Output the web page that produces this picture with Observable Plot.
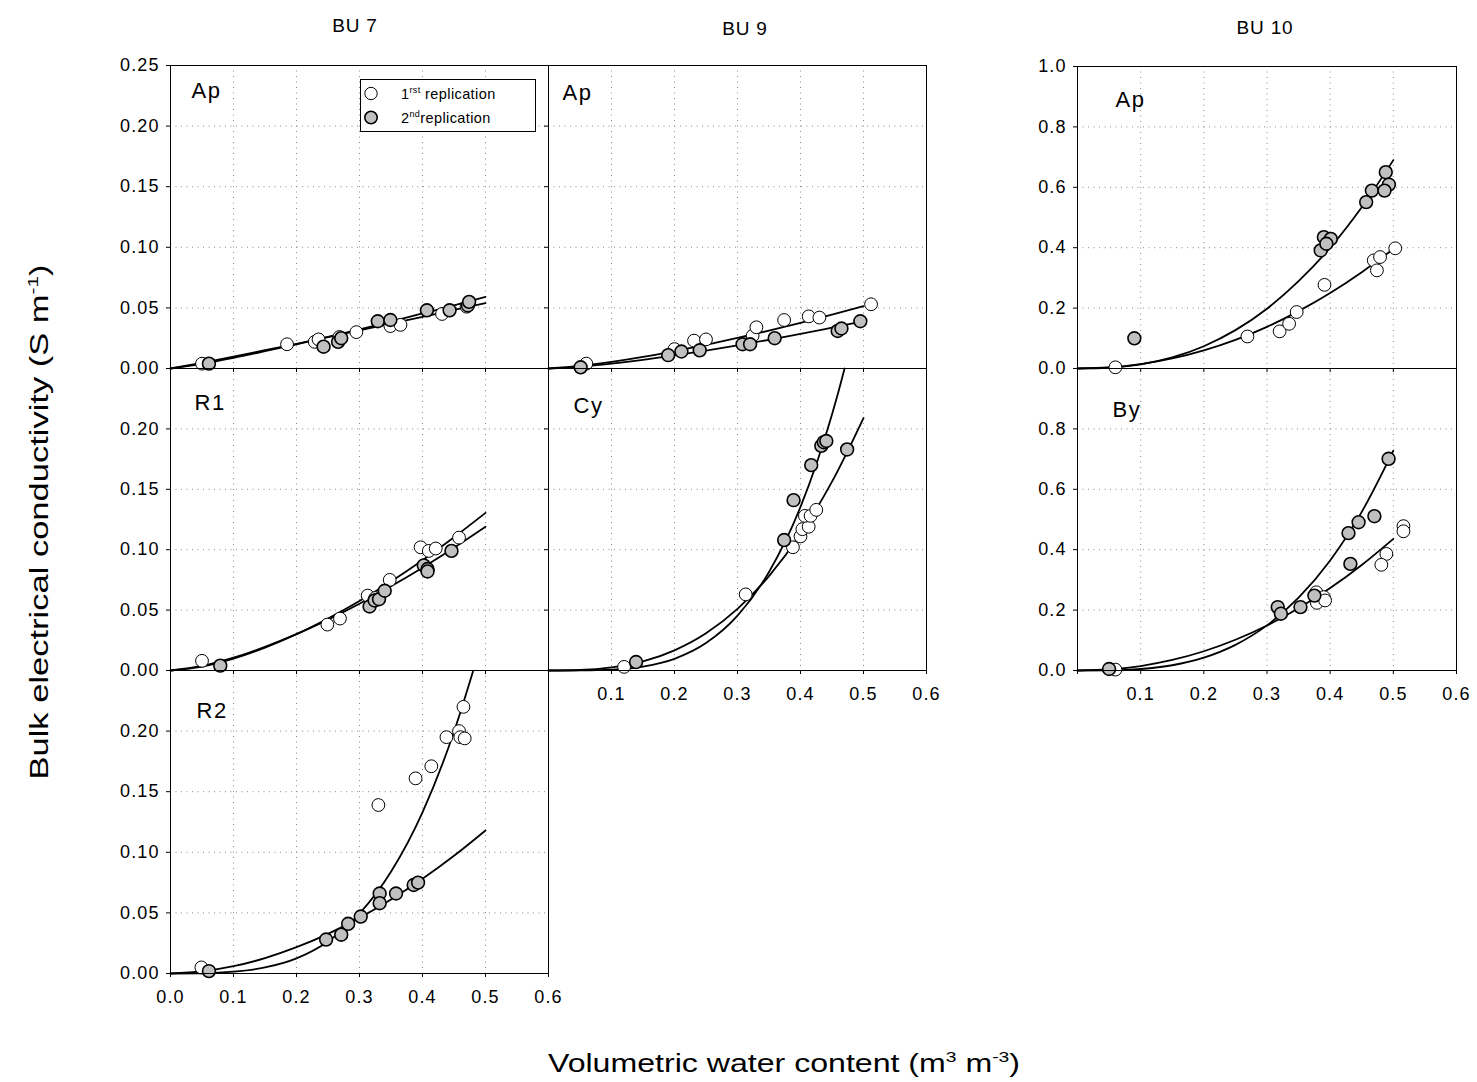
<!DOCTYPE html>
<html>
<head>
<meta charset="utf-8">
<script src="https://cdn.jsdelivr.net/npm/d3@7"></script>
<script src="https://cdn.jsdelivr.net/npm/@observablehq/plot@0.6"></script>
<style>
  html, body { margin: 0; padding: 0; background: #fff; }
  #chart { position: relative; width: 1477px; height: 1082px; background: #fff; font-family: "Liberation Sans", Arial, sans-serif; }
  #chart svg.panel { position: absolute; }
  .panel g[aria-label="y-axis tick label"], .panel g[aria-label="x-axis tick label"] { letter-spacing: 1.1px; }
  .panel g[aria-label="text"] { letter-spacing: 1.5px; }
  #overlay { position: absolute; left: 0; top: 0; pointer-events: none; }
</style>
</head>
<body>
<div id="chart"></div>
<script>
// ---------------- tick values ----------------
const xTicks = [0, 0.1, 0.2, 0.3, 0.4, 0.5, 0.6];
const yTicksSmall = [0, 0.05, 0.10, 0.15, 0.20, 0.25];
const yTicksLarge = [0, 0.2, 0.4, 0.6, 0.8, 1.0];
const columnTitles = ["BU 7", "BU 9", "BU 10"];
const horizonLabels = ["Ap", "R1", "R2", "Ap", "Cy", "Ap", "By"];
const legendLabels = [["1", "rst", " replication"], ["2", "nd", "replication"]];
const xTitle = ["Volumetric water content (m", "3", " m", "-3", ")"];
const yTitle = ["Bulk electrical conductivity (S m", "-1", ")"];

// x positions where the fitted curves were read
const fitX = [0, 0.05, 0.10, 0.15, 0.20, 0.25, 0.30, 0.35, 0.40, 0.45, 0.50];

// ---------------- BU 7 – Ap ----------------
const bu7ApRep1X = [0.050, 0.185, 0.229, 0.235, 0.268, 0.295, 0.349, 0.365, 0.431, 0.470];
const bu7ApRep1Y = [0.004, 0.020, 0.022, 0.024, 0.026, 0.030, 0.035, 0.036, 0.045, 0.051];
const bu7ApRep2X = [0.061, 0.243, 0.266, 0.271, 0.329, 0.349, 0.407, 0.443, 0.472, 0.474];
const bu7ApRep2Y = [0.004, 0.018, 0.022, 0.025, 0.039, 0.040, 0.048, 0.048, 0.052, 0.055];
const bu7ApFitAY = [0, 0.0039, 0.0088, 0.0143, 0.0200, 0.0260, 0.0323, 0.0387, 0.0454, 0.0521, 0.0590];
const bu7ApFitBY = [0, 0.0047, 0.0098, 0.0151, 0.0204, 0.0259, 0.0314, 0.0370, 0.0426, 0.0483, 0.0540];

// ---------------- BU 7 – R1 ----------------
const bu7R1Rep1X = [0.050, 0.249, 0.269, 0.313, 0.325, 0.348, 0.397, 0.410, 0.421, 0.458];
const bu7R1Rep1Y = [0.008, 0.038, 0.043, 0.062, 0.060, 0.075, 0.102, 0.099, 0.101, 0.110];
const bu7R1Rep2X = [0.079, 0.316, 0.324, 0.331, 0.340, 0.402, 0.408, 0.408, 0.446];
const bu7R1Rep2Y = [0.004, 0.053, 0.058, 0.059, 0.066, 0.087, 0.084, 0.082, 0.099];
const bu7R1FitAY = [0, 0.0033, 0.0099, 0.0190, 0.0301, 0.0431, 0.0576, 0.0737, 0.0913, 0.1103, 0.1305];
const bu7R1FitBY = [0, 0.0038, 0.0106, 0.0196, 0.0301, 0.0421, 0.0553, 0.0697, 0.0851, 0.1016, 0.1190];

// ---------------- BU 7 – R2 ----------------
const bu7R2Rep1X = [0.049, 0.330, 0.389, 0.414, 0.438, 0.458, 0.460, 0.467, 0.465];
const bu7R2Rep1Y = [0.005, 0.139, 0.161, 0.171, 0.195, 0.200, 0.195, 0.194, 0.220];
const bu7R2Rep2X = [0.061, 0.247, 0.271, 0.282, 0.302, 0.332, 0.332, 0.358, 0.386, 0.393];
const bu7R2Rep2Y = [0.002, 0.028, 0.032, 0.041, 0.047, 0.066, 0.058, 0.066, 0.073, 0.075];
const bu7R2FitAX = [0, 0.05, 0.10, 0.15, 0.20, 0.25, 0.30, 0.35, 0.40, 0.45, 0.48];
const bu7R2FitAY = [0, 0.0002, 0.0015, 0.0050, 0.0125, 0.0264, 0.0495, 0.0840, 0.1330, 0.1995, 0.2490];
const bu7R2FitBY = [0, 0.0017, 0.0060, 0.0127, 0.0217, 0.0327, 0.0459, 0.0610, 0.0781, 0.0971, 0.1180];

// ---------------- BU 9 – Ap ----------------
const bu9ApRep1X = [0.060, 0.200, 0.231, 0.250, 0.324, 0.330, 0.374, 0.413, 0.430, 0.512];
const bu9ApRep1Y = [0.004, 0.016, 0.023, 0.024, 0.027, 0.034, 0.040, 0.043, 0.042, 0.053];
const bu9ApRep2X = [0.051, 0.190, 0.211, 0.240, 0.308, 0.320, 0.359, 0.459, 0.465, 0.495];
const bu9ApRep2Y = [0.001, 0.011, 0.014, 0.015, 0.020, 0.020, 0.025, 0.031, 0.033, 0.039];
const bu9ApFitAY = [0, 0.0021, 0.0054, 0.0095, 0.0143, 0.0195, 0.0252, 0.0313, 0.0377, 0.0444, 0.0515];
const bu9ApFitBY = [0, 0.0016, 0.0041, 0.0072, 0.0108, 0.0148, 0.0191, 0.0237, 0.0285, 0.0337, 0.0390];

// ---------------- BU 9 – Cy ----------------
const bu9CyRep1X = [0.120, 0.313, 0.388, 0.400, 0.403, 0.413, 0.407, 0.416, 0.425];
const bu9CyRep1Y = [0.003, 0.063, 0.102, 0.111, 0.117, 0.119, 0.128, 0.128, 0.133];
const bu9CyRep2X = [0.139, 0.374, 0.389, 0.417, 0.433, 0.437, 0.441, 0.474];
const bu9CyRep2Y = [0.007, 0.108, 0.141, 0.170, 0.186, 0.189, 0.190, 0.183];
const bu9CyFitAX = [0, 0.05, 0.10, 0.15, 0.20, 0.25, 0.30, 0.35, 0.40, 0.45, 0.46, 0.47];
const bu9CyFitAY = [0, 0.0001, 0.0007, 0.0033, 0.0097, 0.0227, 0.0454, 0.0816, 0.1354, 0.2119, 0.2304, 0.2500];
const bu9CyFitBY = [0, 0.0004, 0.0025, 0.0075, 0.0167, 0.0308, 0.0510, 0.0781, 0.1129, 0.1563, 0.2090];

// ---------------- BU 10 – Ap ----------------
const bu10ApRep1X = [0.060, 0.269, 0.320, 0.335, 0.347, 0.391, 0.469, 0.479, 0.474, 0.503];
const bu10ApRep1Y = [0.004, 0.106, 0.123, 0.148, 0.187, 0.277, 0.358, 0.369, 0.325, 0.398];
const bu10ApRep2X = [0.090, 0.385, 0.390, 0.401, 0.394, 0.457, 0.466, 0.488, 0.493, 0.486];
const bu10ApRep2Y = [0.100, 0.391, 0.435, 0.429, 0.413, 0.551, 0.589, 0.650, 0.609, 0.589];
const bu10ApFitAY = [0, 0.0025, 0.0136, 0.0366, 0.0738, 0.127, 0.198, 0.289, 0.400, 0.534, 0.690];
const bu10ApFitBY = [0, 0.0035, 0.0144, 0.0332, 0.0600, 0.0949, 0.138, 0.190, 0.250, 0.319, 0.396];

// ---------------- BU 10 – By ----------------
const bu10ByRep1X = [0.060, 0.378, 0.390, 0.379, 0.392, 0.489, 0.481, 0.516, 0.516];
const bu10ByRep1Y = [0.003, 0.259, 0.243, 0.224, 0.232, 0.386, 0.350, 0.478, 0.461];
const bu10ByRep2X = [0.050, 0.317, 0.322, 0.353, 0.375, 0.432, 0.429, 0.445, 0.470, 0.4925];
const bu10ByRep2Y = [0.005, 0.210, 0.188, 0.210, 0.248, 0.353, 0.455, 0.491, 0.511, 0.701];
const bu10ByFitAY = [0, 0.0006, 0.0050, 0.0174, 0.0425, 0.0849, 0.1494, 0.241, 0.3645, 0.5252, 0.728];
const bu10ByFitBY = [0, 0.0035, 0.0148, 0.0348, 0.0637, 0.1017, 0.1491, 0.2061, 0.2729, 0.3495, 0.436];

// ---------------- helpers ----------------
const FONT = "'Liberation Sans', Arial, Helvetica, sans-serif";
const rows = (xs, ys) => xs.map((x, i) => ({x, y: ys[i]}));
const fmt2 = d => d.toFixed(2);
const fmt1 = d => d.toFixed(1);
const blank = () => "";
const skipTop = (f, top) => d => Math.abs(d - top) < 1e-9 ? "" : f(d);
const skipZero = f => d => d === 0 ? "" : f(d);

const panels = [
  {label: horizonLabels[0], left: 170, top: 65, w: 378, h: 303, yMax: 0.25, yTicks: yTicksSmall, yFmt: fmt2, xFmt: blank,
   rep1: rows(bu7ApRep1X, bu7ApRep1Y), rep2: rows(bu7ApRep2X, bu7ApRep2Y),
   fits: [rows(fitX, bu7ApFitAY), rows(fitX, bu7ApFitBY)], ldx: 21, ldy: 18},
  {label: horizonLabels[1], left: 170, top: 368, w: 378, h: 302, yMax: 0.25, yTicks: yTicksSmall, yFmt: skipTop(fmt2, 0.25), xFmt: blank,
   rep1: rows(bu7R1Rep1X, bu7R1Rep1Y), rep2: rows(bu7R1Rep2X, bu7R1Rep2Y),
   fits: [rows(fitX, bu7R1FitAY), rows(fitX, bu7R1FitBY)], ldx: 24, ldy: 27},
  {label: horizonLabels[2], left: 170, top: 670, w: 378, h: 303, yMax: 0.25, yTicks: yTicksSmall, yFmt: skipTop(fmt2, 0.25), xFmt: fmt1,
   rep1: rows(bu7R2Rep1X, bu7R2Rep1Y), rep2: rows(bu7R2Rep2X, bu7R2Rep2Y),
   fits: [rows(bu7R2FitAX, bu7R2FitAY), rows(fitX, bu7R2FitBY)], ldx: 26, ldy: 33},
  {label: horizonLabels[3], left: 548, top: 65, w: 378, h: 303, yMax: 0.25, yTicks: yTicksSmall, yFmt: blank, xFmt: blank,
   rep1: rows(bu9ApRep1X, bu9ApRep1Y), rep2: rows(bu9ApRep2X, bu9ApRep2Y),
   fits: [rows(fitX, bu9ApFitAY), rows(fitX, bu9ApFitBY)], ldx: 14, ldy: 20},
  {label: horizonLabels[4], left: 548, top: 368, w: 378, h: 302, yMax: 0.25, yTicks: yTicksSmall, yFmt: blank, xFmt: skipZero(fmt1),
   rep1: rows(bu9CyRep1X, bu9CyRep1Y), rep2: rows(bu9CyRep2X, bu9CyRep2Y),
   fits: [rows(bu9CyFitAX, bu9CyFitAY), rows(fitX, bu9CyFitBY)], ldx: 25, ldy: 30},
  {label: horizonLabels[5], left: 1077, top: 66, w: 379, h: 302, yMax: 1.0, yTicks: yTicksLarge, yFmt: fmt1, xFmt: blank,
   rep1: rows(bu10ApRep1X, bu10ApRep1Y), rep2: rows(bu10ApRep2X, bu10ApRep2Y),
   fits: [rows(fitX, bu10ApFitAY), rows(fitX, bu10ApFitBY)], ldx: 38, ldy: 26},
  {label: horizonLabels[6], left: 1077, top: 368, w: 379, h: 302, yMax: 1.0, yTicks: yTicksLarge, yFmt: skipTop(fmt1, 1.0), xFmt: skipZero(fmt1),
   rep1: rows(bu10ByRep1X, bu10ByRep1Y), rep2: rows(bu10ByRep2X, bu10ByRep2Y),
   fits: [rows(fitX, bu10ByFitAY), rows(fitX, bu10ByFitBY)], ldx: 35, ldy: 34}
];

const chart = document.getElementById("chart");
const mL = 70, mR = 14, mT = 14, mB = 46;
const gridStyle = {stroke: "#8c8c8c", strokeOpacity: 1, strokeWidth: 1, strokeDasharray: "1,4.5"};

for (const p of panels) {
  const svg = Plot.plot({
    width: p.w + mL + mR,
    height: p.h + mT + mB,
    marginLeft: mL, marginRight: mR, marginTop: mT, marginBottom: mB,
    x: {domain: [0, 0.6]},
    y: {domain: [0, p.yMax]},
    style: {background: "transparent", overflow: "visible", fontFamily: FONT, fontSize: "18px", color: "black"},
    marks: [
      Plot.gridX({...gridStyle, ticks: xTicks.slice(1, -1)}),
      Plot.gridY({...gridStyle, ticks: p.yTicks.slice(1, -1)}),
      Plot.axisX({ticks: xTicks, tickSize: 4, tickPadding: 13, tickFormat: p.xFmt, label: null, fontSize: 18}),
      Plot.axisY({ticks: p.yTicks, tickSize: 4, tickPadding: 7, tickFormat: p.yFmt, label: null, fontSize: 18}),
      ...p.fits.map(f => Plot.line(f, {x: "x", y: "y", curve: "monotone-x", stroke: "black", strokeWidth: 1.8})),
      Plot.dot(p.rep1, {x: "x", y: "y", r: 6.4, fill: "white", stroke: "black", strokeWidth: 1}),
      Plot.dot(p.rep2, {x: "x", y: "y", r: 6.4, fill: "#c0c0c0", stroke: "black", strokeWidth: 1.6}),
      Plot.frame({stroke: "black", strokeWidth: 1}),
      Plot.text([p.label], {text: d => d, frameAnchor: "top-left", textAnchor: "start", lineAnchor: "top",
        dx: p.ldx, dy: p.ldy - 1, fontSize: 22, fill: "black"})
    ]
  });
  svg.classList.add("panel");
  svg.style.left = (p.left - mL) + "px";
  svg.style.top = (p.top - mT) + "px";
  chart.appendChild(svg);
}

// ---------------- titles & legend (overlay) ----------------
const NS = "http://www.w3.org/2000/svg";
const ov = document.createElementNS(NS, "svg");
ov.setAttribute("id", "overlay");
ov.setAttribute("width", 1477);
ov.setAttribute("height", 1082);
ov.setAttribute("font-family", FONT);
chart.appendChild(ov);

function el(name, attrs, parent) {
  const e = document.createElementNS(NS, name);
  for (const k in attrs) e.setAttribute(k, attrs[k]);
  (parent || ov).appendChild(e);
  return e;
}
function richText(parts, attrs, supSize, supShift) {
  const t = el("text", attrs);
  parts.forEach((s, i) => {
    const ts = el("tspan", {}, t);
    if (i % 2 === 1) { ts.setAttribute("font-size", supSize); ts.setAttribute("dy", -supShift); }
    else if (i > 0) { ts.setAttribute("dy", supShift); }
    ts.textContent = s;
  });
  return t;
}

// column titles
[[355, 32], [745, 35], [1265, 34]].forEach(([x, y], i) => {
  const t = el("text", {x, y, "text-anchor": "middle", "font-size": 19, "letter-spacing": "0.8px"});
  t.textContent = columnTitles[i];
});

// axis titles
richText(xTitle, {x: 548, y: 1072, "font-size": 25, textLength: 472, lengthAdjust: "spacingAndGlyphs"}, 15, 10);
richText(yTitle, {x: 0, y: 0, "font-size": 25, "text-anchor": "middle", textLength: 515, lengthAdjust: "spacingAndGlyphs",
  transform: "translate(48,522) rotate(-90)"}, 15, 10);

// legend
el("rect", {x: 360.5, y: 79.5, width: 175, height: 52, fill: "white", stroke: "black", "stroke-width": 1});
el("circle", {cx: 371, cy: 93.5, r: 6.2, fill: "white", stroke: "black", "stroke-width": 1});
el("circle", {cx: 371, cy: 117.5, r: 6.2, fill: "#c0c0c0", stroke: "black", "stroke-width": 1.6});
[[401, 99], [401, 123]].forEach(([x, y], i) => {
  richText(legendLabels[i], {x, y, "font-size": 14.5, "letter-spacing": "0.4px"}, 9, 6);
});
</script>
</body>
</html>
